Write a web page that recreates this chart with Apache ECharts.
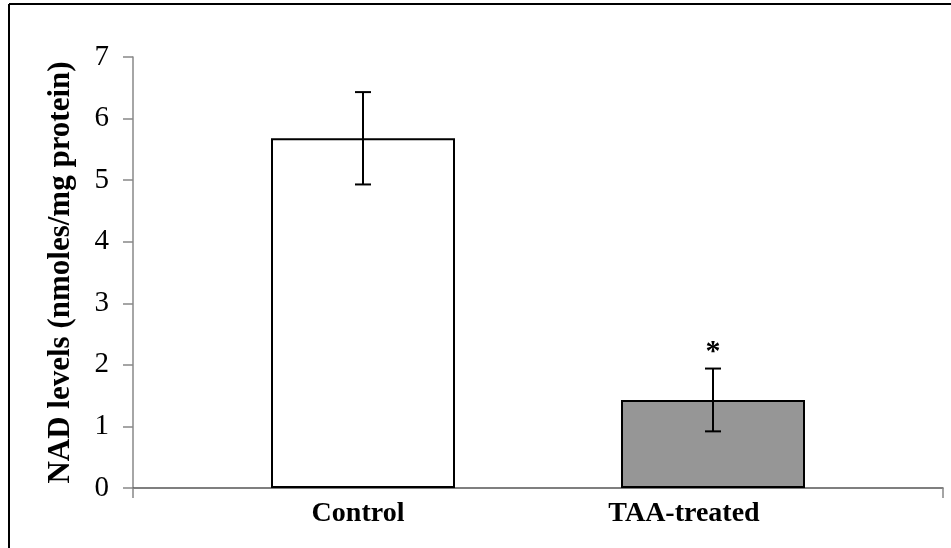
<!DOCTYPE html>
<html>
<head>
<meta charset="utf-8">
<script src="https://cdn.jsdelivr.net/npm/echarts@6/dist/echarts.min.js"></script>
<style>
  html, body { margin: 0; padding: 0; background: #fff; }
  #chart { width: 951px; height: 548px; }
</style>
</head>
<body>
<div id="chart"></div>
<script>
// data
var groups = ["Control", "TAA-treated"];
var means = [5.68, 1.43];
var errors = [0.75, 0.51];
var marks = ["", "*"];
var barColors = ["#ffffff", "#969696"];
var yTicks = [0, 1, 2, 3, 4, 5, 6, 7];

var serif = "'Liberation Serif', 'Times New Roman', serif";
var myChart = echarts.init(document.getElementById("chart"));

var errData = means.map(function (m, i) {
  return [i, m - errors[i], m + errors[i], marks[i]];
});

myChart.setOption({
  animation: false,
  backgroundColor: "#fff",
  graphic: [
    { type: "line", shape: { x1: 9, y1: 4, x2: 951, y2: 4 }, style: { stroke: "#000", lineWidth: 2 } },
    { type: "line", shape: { x1: 9, y1: 4, x2: 9, y2: 548 }, style: { stroke: "#000", lineWidth: 2 } }
  ],
  grid: [
    { left: 133, right: 8, top: 57, bottom: 60 },
    { left: 188, right: 63, top: 57, bottom: 60 }
  ],
  xAxis: [
    {
      gridIndex: 0,
      type: "value",
      min: 0,
      max: 1,
      interval: 1,
      splitLine: { show: false },
      axisLabel: { show: false },
      axisLine: { lineStyle: { color: "#555", width: 1.5 } },
      axisTick: { length: 10, lineStyle: { color: "#888", width: 1.5 } }
    },
    {
      gridIndex: 1,
      type: "category",
      data: groups,
      axisLine: { show: false },
      axisTick: { show: false },
      axisLabel: {
        margin: 12,
        formatter: function (v, i) { return "{l" + i + "|" + v + "}"; },
        rich: {
          l0: { fontFamily: serif, fontWeight: "bold", fontSize: 28, color: "#000", padding: [0, 10, 0, 0] },
          l1: { fontFamily: serif, fontWeight: "bold", fontSize: 28, color: "#000", padding: [0, 58, 0, 0] }
        }
      }
    }
  ],
  yAxis: [
    {
      gridIndex: 0,
      type: "value",
      min: yTicks[0],
      max: yTicks[yTicks.length - 1],
      interval: 1,
      splitLine: { show: false },
      axisLine: { show: true, lineStyle: { color: "#888", width: 1.5 } },
      axisTick: { show: true, length: 10, lineStyle: { color: "#888", width: 1.5 } },
      axisLabel: { margin: 24, fontFamily: serif, fontSize: 29, color: "#000" },
      name: "NAD levels (nmoles/mg protein)",
      nameLocation: "middle",
      nameGap: 57,
      nameTextStyle: { fontFamily: serif, fontWeight: "bold", fontSize: 31, color: "#000" }
    },
    {
      gridIndex: 1,
      type: "value",
      min: yTicks[0],
      max: yTicks[yTicks.length - 1],
      show: false
    }
  ],
  series: [
    {
      type: "bar",
      xAxisIndex: 1,
      yAxisIndex: 1,
      barWidth: 184,
      data: means.map(function (m, i) {
        return { value: m, itemStyle: { color: barColors[i] } };
      }),
      itemStyle: { borderColor: "#000", borderWidth: 2 }
    },
    {
      type: "custom",
      xAxisIndex: 1,
      yAxisIndex: 1,
      data: errData,
      z: 5,
      renderItem: function (params, api) {
        var lo = api.coord([api.value(0), api.value(1)]);
        var hi = api.coord([api.value(0), api.value(2)]);
        var cap = 8;
        var children = [
          { type: "line", shape: { x1: lo[0], y1: lo[1], x2: hi[0], y2: hi[1] }, style: { stroke: "#000", lineWidth: 2 } },
          { type: "line", shape: { x1: hi[0] - cap, y1: hi[1], x2: hi[0] + cap, y2: hi[1] }, style: { stroke: "#000", lineWidth: 2 } },
          { type: "line", shape: { x1: lo[0] - cap, y1: lo[1], x2: lo[0] + cap, y2: lo[1] }, style: { stroke: "#000", lineWidth: 2 } }
        ];
        var mk = errData[params.dataIndex][3];
        if (mk) {
          children.push({
            type: "text",
            style: {
              text: mk, x: hi[0], y: hi[1] - 1,
              align: "center", verticalAlign: "bottom",
              font: "bold 30px " + serif, fill: "#000"
            }
          });
        }
        return { type: "group", children: children };
      }
    }
  ]
});
</script>
</body>
</html>
